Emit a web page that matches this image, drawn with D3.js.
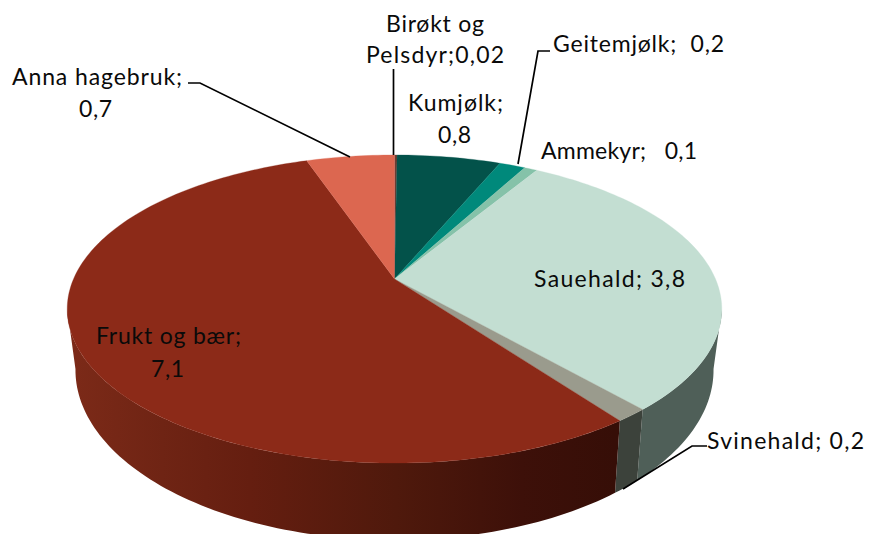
<!DOCTYPE html>
<html lang="no">
<head>
<meta charset="UTF-8">
<title>Kakediagram</title>
<script src="https://cdn.jsdelivr.net/npm/d3@7"></script>
<style>
  html, body { margin: 0; padding: 0; background: #fff; }
  svg { display: block; }
  text { font-family: Lato, "Open Sans", sans-serif; font-size: 23px; fill: #0a0a0a; }
</style>
</head>
<body>
<div id="chart"></div>
<script>
// clockwise from twelve o'clock; slice sizes, a bit finer than the printed labels
var categories = ["Birøkt og Pelsdyr", "Kumjølk", "Geitemjølk", "Ammekyr", "Sauehald", "Svinehald", "Frukt og bær", "Anna hagebruk"];
var values = [0.02, 0.8, 0.2, 0.1, 3.87, 0.18, 7.1, 0.68];
var topColors = ["#6e3b30", "#03524a", "#00897b", "#85c2a9", "#c3ded2", "#9a9b8d", "#8c2a18", "#dc6750"];
var wallColors = ["#4a2018", "#022f2a", "#00504a", "#4c7263", "#4f5f58", "#3c423b", "url(#fruitWall)", "#84392b"];

// printed label lines
var labelLines = ["Birøkt og", "Pelsdyr;0,02", "Kumjølk;", "0,8", "Geitemjølk;  0,2", "Ammekyr;   0,1", "Sauehald; 3,8", "Svinehald; 0,2", "Anna hagebruk;", "0,7", "Frukt og bær;", "7,1"];

// Frukt og bær wall gets darker from left to right
var fruitWallOffsets = [0, 0.17, 0.33, 0.6, 0.83, 1];
var fruitWallColors = ["#7c2a18", "#6f2414", "#651e10", "#4f190c", "#3d1009", "#360e07"];

var width = 869, height = 534;
var svg = d3.select("#chart").append("svg").attr("width", width).attr("height", height);

// the two planes of the disc, in perspective (front edge nearer the camera)
var topPlane = {cx: 394.5, cy: 279, bx: 321, ay: 148.2, k: 0.195};
var bottomPlane = {cx: 394.5, cy: 336, bx: 312.6, ay: 163.2, k: 0.2};

function project(angle, plane) {
  var u = Math.sin(angle), v = Math.cos(angle), w = 1 + plane.k * v;
  return [plane.cx + plane.bx * u / w, plane.cy - plane.ay * v / w];
}

var arcs = d3.pie().sort(null).startAngle(0).endAngle(2 * Math.PI)(values);
var line = d3.line();
var step = Math.PI / 150;

function sampleAngles(a0, a1) {
  var n = Math.max(1, Math.ceil((a1 - a0) / step)), out = [];
  for (var i = 0; i <= n; i++) out.push(a0 + (a1 - a0) * i / n);
  return out;
}

var grad = svg.append("defs").append("linearGradient")
  .attr("id", "fruitWall")
  .attr("gradientUnits", "userSpaceOnUse")
  .attr("x1", 70).attr("x2", 615).attr("y1", 0).attr("y2", 0);
grad.selectAll("stop")
  .data(fruitWallOffsets)
  .enter().append("stop")
  .attr("offset", function(d) { return d; })
  .attr("stop-color", function(d, i) { return fruitWallColors[i]; });

// only the part of the wall between the two silhouette angles faces the camera
var wallFrom = Math.acos(-topPlane.k);
var wallTo = 2 * Math.PI - wallFrom;

svg.append("g").selectAll("path")
  .data(arcs.filter(function(d) { return d.endAngle > wallFrom && d.startAngle < wallTo; }))
  .enter().append("path")
  .attr("d", function(d) {
    var as = sampleAngles(Math.max(d.startAngle, wallFrom), Math.min(d.endAngle, wallTo));
    var pts = as.map(function(a) { return project(a, topPlane); })
      .concat(as.slice().reverse().map(function(a) { return project(a, bottomPlane); }));
    return line(pts) + "Z";
  })
  .attr("fill", function(d) { return wallColors[d.index]; });

// top face
svg.append("g").selectAll("path")
  .data(arcs)
  .enter().append("path")
  .attr("d", function(d) {
    var pts = sampleAngles(d.startAngle, d.endAngle).map(function(a) { return project(a, topPlane); });
    pts.unshift([topPlane.cx, topPlane.cy]);
    return line(pts) + "Z";
  })
  .attr("fill", function(d, i) { return topColors[i]; })
  .attr("stroke", function(d, i) { return topColors[i]; })
  .attr("stroke-width", 0.3);

// leader lines
var leaders = [
  [[188, 83], [200, 83], [350, 157]],
  [[393.5, 69], [393.5, 155]],
  [[550, 51], [538, 51], [518, 164]],
  [[707, 446], [692, 446], [623, 489]]
];
svg.append("g").selectAll("path")
  .data(leaders)
  .enter().append("path")
  .attr("d", line)
  .attr("fill", "none")
  .attr("stroke", "#000")
  .attr("stroke-width", 1.7);

// x = left edge of line, y = baseline, w = width of the line
var labelBoxes = [
  {x: 386, y: 32, w: 98},
  {x: 366, y: 63, w: 138},
  {x: 408, y: 111, w: 95},
  {x: 438, y: 143, w: 33},
  {x: 553, y: 52, w: 171},
  {x: 541, y: 159, w: 156},
  {x: 534, y: 287, w: 151},
  {x: 707, y: 449, w: 157},
  {x: 12, y: 85, w: 170},
  {x: 79, y: 117, w: 33},
  {x: 96, y: 344, w: 145},
  {x: 151, y: 377, w: 33}
];
svg.append("g").selectAll("text")
  .data(labelLines)
  .enter().append("text")
  .attr("x", function(d, i) { return labelBoxes[i].x; })
  .attr("y", function(d, i) { return labelBoxes[i].y; })
  .attr("textLength", function(d, i) { return labelBoxes[i].w; })
  .attr("lengthAdjust", "spacing")
  .style("white-space", "pre")
  .text(function(d) { return d; });
</script>
</body>
</html>
